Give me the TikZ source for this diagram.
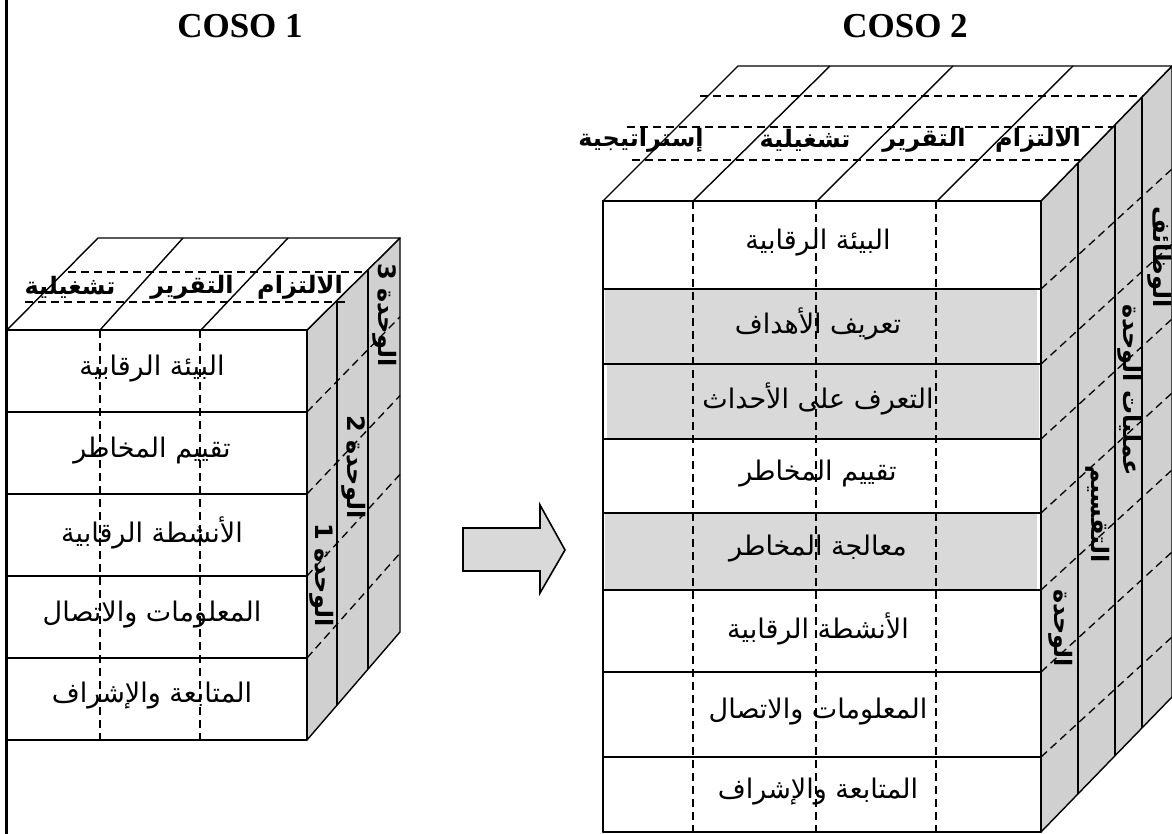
\documentclass[tikz,border=0pt]{standalone}
\usepackage{fontspec}
\setmainfont{Liberation Serif}
\newfontfamily\arabfont[Script=Arabic]{DejaVu Sans}
\TeXXeTstate=1
\usetikzlibrary{calc}
\definecolor{facegray}{RGB}{208,208,208}
\definecolor{rowgray}{RGB}{217,217,217}
\newcommand\artxt[1]{\beginR #1\endR}
\tikzset{
  edge/.style={line width=1.4pt, black, line join=round},
  dashline/.style={line width=1.3pt, dash pattern=on 8pt off 5pt},
  rowtext/.style={font=\arabfont\fontsize{27}{30}\selectfont, inner sep=0pt},
  toptext/.style={font=\arabfont\bfseries\fontsize{24}{28}\selectfont, inner sep=0pt},
  sidetext/.style={font=\arabfont\bfseries\fontsize{24}{28}\selectfont, inner sep=0pt, rotate=-90},
  titletext/.style={font=\bfseries\fontsize{35}{40}\selectfont, inner sep=0pt},
}
\begin{document}
\begin{tikzpicture}[x=1pt,y=-1pt]
\useasboundingbox (0,0) rectangle (1172,834);
\fill[white] (0,0) rectangle (1172,834);

% page border line
\draw[line width=3pt] (6,0) -- (6,834);

% titles
\node[titletext] (t1) at (240,26) {COSO 1};
\node[titletext] (t2) at (905,26) {COSO 2};

% ================= COSO 1 =================
\coordinate (afT) at (307,330);
\coordinate (abT) at (400,238);
\coordinate (abB) at (400,632);
\coordinate (afB) at (307,740);
% right face
\fill[facegray] (afT) -- (abT) -- (abB) -- (afB) -- cycle;
\foreach \t in {0.2,0.4,0.6,0.8}
  \draw[dashline] ($(afT)!\t!(afB)$) -- ($(abT)!\t!(abB)$);
\foreach \f in {0.3226,0.656}
  \draw[edge] ($(afT)!\f!(abT)$) -- ($(afB)!\f!(abB)$);
\draw[edge] (afT) -- (abT) -- (abB) -- (afB);
% top face
\draw[edge, fill=white] (7,330) -- (98,238) -- (abT) -- (afT) -- cycle;
\draw[edge] (100,330) -- (183,238);
\draw[edge] (201,330) -- (288,238);
\draw[dashline] (68,272) -- (367,272);
\draw[dashline] (25,302) -- (347,302);
\node[toptext] (a_op) at (70,287) {\artxt{تشغيلية}};
\node[toptext] (a_rep) at (192,287) {\artxt{التقرير}};
\node[toptext] (a_comp) at (300,287) {\artxt{الالتزام}};
% front face
\draw[edge, fill=white] (7,330) rectangle (afB);
\foreach \y in {412,494,576,658}
  \draw[edge] (7,\y) -- (307,\y);
\foreach \x in {100,200}
  \draw[dashline] (\x,330) -- (\x,740);
\node[rowtext] (a_r1) at (152,369) {\artxt{البيئة الرقابية}};
\node[rowtext] (a_r2) at (152,451) {\artxt{تقييم المخاطر}};
\node[rowtext] (a_r3) at (152,533) {\artxt{الأنشطة الرقابية}};
\node[rowtext] (a_r4) at (152,615) {\artxt{المعلومات والاتصال}};
\node[rowtext] (a_r5) at (152,696) {\artxt{المتابعة والإشراف}};
% side labels
\node[sidetext] (a_u3) at (385,315) {\artxt{الوحدة 3}};
\node[sidetext] (a_u2) at (354,467) {\artxt{الوحدة 2}};
\node[sidetext] (a_u1) at (322,575) {\artxt{الوحدة 1}};

% ================= ARROW =================
\draw[line width=1.6pt, fill=rowgray, line join=miter]
  (463,528) -- (540,528) -- (540,505) -- (565,550) -- (540,593) -- (540,571) -- (463,571) -- cycle;

% ================= COSO 2 =================
\coordinate (bfT) at (1041,201);
\coordinate (bbT) at (1172,66);
\coordinate (bbB) at (1172,697);
\coordinate (bfB) at (1041,832);
% right face
\fill[facegray] (bfT) -- (bbT) -- (bbB) -- (bfB) -- cycle;
\foreach \y in {289,364,439,513,590,672,757}
  \draw[dashline] (1041,\y) -- (1172,\y-120);
\foreach \f in {0.2824,0.5649,0.771}
  \draw[edge] ($(bfT)!\f!(bbT)$) -- ($(bfB)!\f!(bbB)$);
\draw[edge] (bfT) -- (bbT) -- (bbB) -- (bfB);
% top face
\draw[edge, fill=white] (603,201) -- (738,66) -- (bbT) -- (bfT) -- cycle;
\draw[edge] (693,201) -- (830,66);
\draw[edge] (817,201) -- (953,66);
\draw[edge] (937,201) -- (1073,66);
\draw[dashline] (700,96) -- (1143,96);
\draw[dashline] (627,127) -- (1113,127);
\draw[dashline] (632,160) -- (1080,160);
\node[toptext] (b_str) at (641,140) {\artxt{إستراتيجية}};
\node[toptext] (b_op) at (805,140) {\artxt{تشغيلية}};
\node[toptext] (b_rep) at (924,140) {\artxt{التقرير}};
\node[toptext] (b_comp) at (1038,140) {\artxt{الالتزام}};
% front face
\draw[edge, fill=white] (603,201) rectangle (bfB);
\fill[rowgray] (605,290) rectangle (1037,363);
\fill[rowgray] (607,365) rectangle (1039,438);
\fill[rowgray] (605,514) rectangle (1037,589);
\foreach \y in {289,364,439,513,590,672,757}
  \draw[edge] (603,\y) -- (1041,\y);
\draw[edge] (603,201) rectangle (bfB);
\foreach \x in {693,816,936}
  \draw[dashline] (\x,201) -- (\x,832);
\node[rowtext] (b_r1) at (818,243) {\artxt{البيئة الرقابية}};
\node[rowtext] (b_r2) at (818,324) {\artxt{تعريف الأهداف}};
\node[rowtext] (b_r3) at (818,399) {\artxt{التعرف على الأحداث}};
\node[rowtext] (b_r4) at (818,474) {\artxt{تقييم المخاطر}};
\node[rowtext] (b_r5) at (818,549) {\artxt{معالجة المخاطر}};
\node[rowtext] (b_r6) at (818,629) {\artxt{الأنشطة الرقابية}};
\node[rowtext] (b_r7) at (818,712) {\artxt{المعلومات والاتصال}};
\node[rowtext] (b_r8) at (818,792) {\artxt{المتابعة والإشراف}};
% side labels
\node[sidetext] (b_u1) at (1061,628) {\artxt{الوحدة}};
\node[sidetext] (b_u2) at (1098,514) {\artxt{التقسيم}};
\node[sidetext] (b_u3) at (1130,390) {\artxt{عمليات الوحدة}};
\node[sidetext] (b_u4) at (1160,257) {\artxt{الوظائف}};
\end{tikzpicture}
\end{document}
